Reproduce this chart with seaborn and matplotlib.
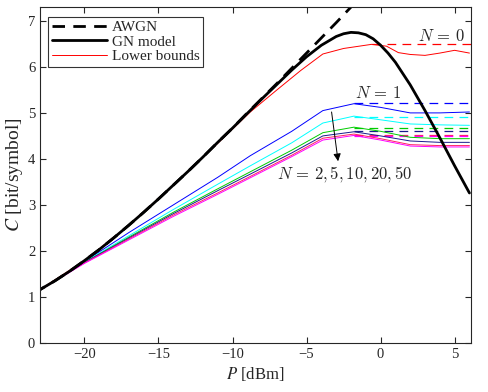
import numpy as np
import pandas as pd
import matplotlib
matplotlib.use("Agg")
import matplotlib.pyplot as plt
import seaborn as sns

sns.set_style("ticks")
plt.rcParams['font.family'] = ['Liberation Serif', 'DejaVu Serif']
plt.rcParams['mathtext.fontset'] = 'stix'

# AWGN capacity (dashed black)
p_awgn = [-23, -22, -21, -20, -19, -18, -17, -16, -15, -14, -13, -12, -11, -10,
          -9, -8, -7, -6, -5, -4, -3, -2, -1]
c_awgn = [1.16, 1.35, 1.56, 1.79, 2.03, 2.29, 2.56, 2.84, 3.13, 3.43, 3.73, 4.04,
          4.36, 4.67, 5.00, 5.32, 5.64, 5.97, 6.30, 6.63, 6.96, 7.30, 7.63]

# GN model (solid black)
p_gn = [-23, -22, -21, -20, -19, -18, -17, -16, -15, -14, -13, -12, -11, -10,
        -9, -8, -7, -6, -5, -4, -3, -2.5, -2, -1.5, -1, -0.5, 0, 0.5, 1, 2, 3, 4, 5, 6]
c_gn = [1.16, 1.35, 1.56, 1.79, 2.03, 2.29, 2.56, 2.84, 3.13, 3.43, 3.73, 4.04,
        4.36, 4.67, 4.99, 5.31, 5.62, 5.93, 6.22, 6.47, 6.66, 6.72, 6.75, 6.74,
        6.70, 6.61, 6.47, 6.30, 6.10, 5.61, 5.05, 4.46, 3.85, 3.26]

# lower bound N = 0 (red)
p_n0 = [-23, -20, -17, -14, -11, -8.8, -7, -5.4, -3.9, -2.5, -0.6, 0.4, 1.2, 2, 3, 4, 5, 6]
c_n0 = [1.16, 1.79, 2.56, 3.43, 4.34, 5.02, 5.50, 5.92, 6.28, 6.40, 6.49, 6.45,
        6.31, 6.27, 6.25, 6.30, 6.36, 6.30]

# lower bounds N = 1, 2, 5, 10, 20, 50
p_lb = [-23, -20, -17, -14, -11, -8.8, -6, -3.9, -1.8, 0, 2, 4, 6]
c_n1 = [1.15, 1.77, 2.40, 3.00, 3.60, 4.07, 4.60, 5.05, 5.20, 5.12, 5.00, 5.00, 5.02]
c_n2 = [1.15, 1.76, 2.33, 2.90, 3.45, 3.85, 4.35, 4.78, 4.93, 4.85, 4.76, 4.74, 4.73]
c_n5 = [1.15, 1.75, 2.30, 2.84, 3.35, 3.72, 4.19, 4.57, 4.69, 4.60, 4.47, 4.44, 4.44]
c_n10 = [1.15, 1.75, 2.28, 2.81, 3.31, 3.67, 4.13, 4.50, 4.59, 4.50, 4.39, 4.36, 4.36]
c_n20 = [1.15, 1.74, 2.26, 2.78, 3.26, 3.62, 4.08, 4.45, 4.54, 4.44, 4.31, 4.29, 4.29]
c_n50 = [1.15, 1.73, 2.24, 2.75, 3.23, 3.59, 4.05, 4.41, 4.51, 4.41, 4.28, 4.26, 4.26]

# asymptotic levels (dashed) for N = 0, 1, 2, 5, 10, 20, 50
n_colors = ['red', 'blue', 'cyan', '#00cc00', '#1a1a8c', '#ff2060', 'magenta']
lb_curves = [c_n1, c_n2, c_n5, c_n10, c_n20, c_n50]
asym_levels = [6.49, 5.21, 4.92, 4.68, 4.60, 4.53, 4.50]
asym_start = [-0.6, -1.8, -1.8, -1.8, -1.8, -1.8, -1.8]
p_end = 6.2

fig, ax = plt.subplots(figsize=(4.88, 3.92), dpi=100)
fig.subplots_adjust(left=0.082, right=0.965, bottom=0.125, top=0.982)

for lvl, p0, col in zip(asym_levels, asym_start, n_colors):
    sns.lineplot(x=[p0, p_end], y=[lvl, lvl], ax=ax, color=col, lw=0.9,
                 linestyle=(0, (7, 5)))

for c, col in zip(lb_curves, n_colors[1:]):
    sns.lineplot(x=p_lb, y=c, ax=ax, color=col, lw=0.7, sort=False, estimator=None)

sns.lineplot(x=p_n0, y=c_n0, ax=ax, color='red', lw=0.7, sort=False, estimator=None)
sns.lineplot(x=p_gn, y=c_gn, ax=ax, color='black', lw=2.0, sort=False, estimator=None)
sns.lineplot(x=p_awgn, y=c_awgn, ax=ax, color='black', lw=2.0,
             linestyle=(3, (5, 3)), sort=False, estimator=None)

ax.set_xlim(-23, 6.1)
ax.set_ylim(0, 7.3)
ax.set_xticks([-20, -15, -10, -5, 0, 5])
ax.set_yticks(range(8))
ax.tick_params(direction='in', top=True, right=True, labelsize=10.5, length=4)
for s in ax.spines.values():
    s.set_linewidth(0.8)

ax.set_xlabel('$P$ [dBm]', fontsize=12, labelpad=3)
ax.set_ylabel('$C$ [bit/symbol]', fontsize=14, labelpad=2)

ax.text(4.1, 6.64, r'$N\,=\,0$', fontsize=12, ha='center', va='center', math_fontfamily='cm')
ax.text(-0.15, 5.41, r'$N\,=\,1$', fontsize=12, ha='center', va='center', math_fontfamily='cm')
ax.text(-2.4, 3.67, r'$N\,=\,2,5,10,20,50$', fontsize=12, ha='center', va='center',
        math_fontfamily='cm')
ax.annotate('', xy=(-2.87, 3.95), xytext=(-3.31, 5.02),
            arrowprops=dict(arrowstyle='-|>', color='black', lw=0.7,
                            mutation_scale=11, shrinkA=0, shrinkB=0))

handles = [
    plt.Line2D([], [], color='black', lw=2.0, linestyle=(0, (4.5, 3))),
    plt.Line2D([], [], color='black', lw=2.0),
    plt.Line2D([], [], color='red', lw=0.7),
]
leg = ax.legend(handles, ['AWGN', 'GN model', 'Lower bounds'], loc='upper left',
                bbox_to_anchor=(0.019, 0.971), fontsize=11, frameon=True, fancybox=False,
                edgecolor='black', handlelength=3.6, handletextpad=0.3,
                labelspacing=0.05, borderpad=0.25, borderaxespad=0)
leg.get_frame().set_linewidth(0.8)

fig.savefig('out.png', dpi=100)
